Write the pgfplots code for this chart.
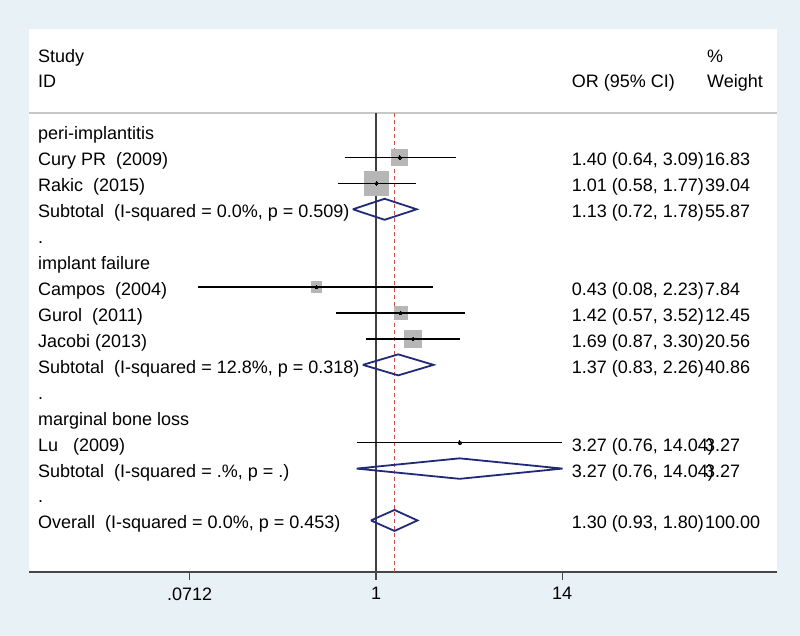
\documentclass[border=0pt]{standalone}
\usepackage{pgfplots}
\pgfplotsset{compat=1.18}
\usepackage{fontspec}
\setmainfont{Liberation Sans}
\definecolor{bgblue}{RGB}{232,241,245}
\definecolor{boxgray}{RGB}{182,182,182}
\definecolor{navy}{RGB}{32,42,120}
\definecolor{reddash}{RGB}{205,80,80}
\begin{document}
\begin{tikzpicture}[x=1pt,y=1pt,
  rowtext/.style={anchor=west, font=\fontsize{18}{21}\selectfont, text=black,
    text height=12.9pt, text depth=0pt, inner sep=0pt, yshift=-2pt}]
\fill[bgblue] (0,0) rectangle (800,636);
\fill[white] (29,64) rectangle (777,607);
\draw[black!22, line width=1.6pt] (29,523) -- (777,523);
\begin{axis}[at={(29pt,64pt)}, anchor=south west,
  width=748pt, height=543pt, scale only axis,
  xmode=log, xmin=0.0073205, xmax=293.6,
  ymin=-16.988, ymax=3.953,
  clip=false, clip marker paths=true,
  axis x line*=bottom, axis y line=none,
  x axis line style={line width=1.4pt, black!72, -},
  xtick={0.0712,1,14},
  xticklabels={\mbox{.0712},\mbox{1},\mbox{14}},
  xminorticks=false,
  tick align=outside, major tick length=8pt,
  xtick style={line width=1.2pt, black!72},
  xticklabel style={font=\fontsize{18}{21}\selectfont, text=black, yshift=-4pt},
  ytick=\empty,
  ci/.style={black, line width=1.6pt},
  dia/.style={navy, line width=1.8pt},
  dot/.style={only marks, mark=*, mark size=1.9pt, black, mark options={fill=black, draw=black, line width=0pt}},
  box/.style={only marks, mark=square*, boxgray, mark options={fill=boxgray, draw=boxgray, line width=0pt}},
]
% reference lines
\addplot[black!75, line width=1.3pt] coordinates {(1,0.713) (1,-16.988)};
\addplot[reddash, line width=1pt, dash pattern=on 4pt off 3pt] coordinates {(1.30,0.713) (1.30,-16.988)};

% peri-implantitis
\addplot[box, mark size=7.8pt] coordinates {(1.40,-1)};
\addplot[ci] coordinates {(0.64,-1) (3.09,-1)};
\addplot[dot] coordinates {(1.40,-1)};
\addplot[box, mark size=11.9pt] coordinates {(1.01,-2)};
\addplot[ci] coordinates {(0.58,-2) (1.77,-2)};
\addplot[dot] coordinates {(1.01,-2)};
\addplot[dia] coordinates {(0.72,-3) (1.13,-2.595) (1.78,-3) (1.13,-3.405) (0.72,-3)};

% implant failure
\addplot[box, mark size=5.3pt] coordinates {(0.43,-6)};
\addplot[ci] coordinates {(0.08,-6) (2.23,-6)};
\addplot[dot] coordinates {(0.43,-6)};
\addplot[box, mark size=6.7pt] coordinates {(1.42,-7)};
\addplot[ci] coordinates {(0.57,-7) (3.52,-7)};
\addplot[dot] coordinates {(1.42,-7)};
\addplot[box, mark size=8.6pt] coordinates {(1.69,-8)};
\addplot[ci] coordinates {(0.87,-8) (3.30,-8)};
\addplot[dot] coordinates {(1.69,-8)};
\addplot[dia] coordinates {(0.83,-9) (1.37,-8.595) (2.26,-9) (1.37,-9.405) (0.83,-9)};

% marginal bone loss
\addplot[box, mark size=1.5pt] coordinates {(3.27,-12)};
\addplot[ci] coordinates {(0.76,-12) (14.04,-12)};
\addplot[dot] coordinates {(3.27,-12)};
\addplot[dia] coordinates {(0.76,-13) (3.27,-12.605) (14.04,-13) (3.27,-13.395) (0.76,-13)};

% overall
\addplot[dia] coordinates {(0.93,-15) (1.30,-14.595) (1.80,-15) (1.30,-15.405) (0.93,-15)};

% header
\node[rowtext] at (axis cs:0.008316,2.989) {Study};
\node[rowtext] at (axis cs:0.008316,2.005) {ID};
\node[rowtext] at (axis cs:16.0,2.005) {OR (95\% CI)};
\node[rowtext] at (axis cs:108.9,2.989) {\%};
\node[rowtext] at (axis cs:108.9,2.005) {Weight};

% left column
\node[rowtext] at (axis cs:0.008316,0) {peri-implantitis};
\node[rowtext] at (axis cs:0.008316,-1) {Cury PR\ \ (2009)};
\node[rowtext] at (axis cs:0.008316,-2) {Rakic\ \ (2015)};
\node[rowtext] at (axis cs:0.008316,-3) {Subtotal\ \ (I-squared = 0.0\%, p = 0.509)};
\node[rowtext] at (axis cs:0.008316,-4) {.};
\node[rowtext] at (axis cs:0.008316,-5) {implant failure};
\node[rowtext] at (axis cs:0.008316,-6) {Campos\ \ (2004)};
\node[rowtext] at (axis cs:0.008316,-7) {Gurol\ \ (2011)};
\node[rowtext] at (axis cs:0.008316,-8) {Jacobi (2013)};
\node[rowtext] at (axis cs:0.008316,-9) {Subtotal\ \ (I-squared = 12.8\%, p = 0.318)};
\node[rowtext] at (axis cs:0.008316,-10) {.};
\node[rowtext] at (axis cs:0.008316,-11) {marginal bone loss};
\node[rowtext] at (axis cs:0.008316,-12) {Lu\ \ \ (2009)};
\node[rowtext] at (axis cs:0.008316,-13) {Subtotal\ \ (I-squared = .\%, p = .)};
\node[rowtext] at (axis cs:0.008316,-14) {.};
\node[rowtext] at (axis cs:0.008316,-15) {Overall\ \ (I-squared = 0.0\%, p = 0.453)};

% CI column
\node[rowtext] at (axis cs:16.0,-1) {1.40 (0.64, 3.09)};
\node[rowtext] at (axis cs:16.0,-2) {1.01 (0.58, 1.77)};
\node[rowtext] at (axis cs:16.0,-3) {1.13 (0.72, 1.78)};
\node[rowtext] at (axis cs:16.0,-6) {0.43 (0.08, 2.23)};
\node[rowtext] at (axis cs:16.0,-7) {1.42 (0.57, 3.52)};
\node[rowtext] at (axis cs:16.0,-8) {1.69 (0.87, 3.30)};
\node[rowtext] at (axis cs:16.0,-9) {1.37 (0.83, 2.26)};
\node[rowtext] at (axis cs:16.0,-12) {3.27 (0.76, 14.04)};
\node[rowtext] at (axis cs:16.0,-13) {3.27 (0.76, 14.04)};
\node[rowtext] at (axis cs:16.0,-15) {1.30 (0.93, 1.80)};

% weight column
\node[rowtext] at (axis cs:105.85,-1) {16.83};
\node[rowtext] at (axis cs:105.85,-2) {39.04};
\node[rowtext] at (axis cs:105.85,-3) {55.87};
\node[rowtext] at (axis cs:105.85,-6) {7.84};
\node[rowtext] at (axis cs:105.85,-7) {12.45};
\node[rowtext] at (axis cs:105.85,-8) {20.56};
\node[rowtext] at (axis cs:105.85,-9) {40.86};
\node[rowtext] at (axis cs:105.85,-12) {3.27};
\node[rowtext] at (axis cs:105.85,-13) {3.27};
\node[rowtext] at (axis cs:105.85,-15) {100.00};
\end{axis}
\end{tikzpicture}
\end{document}
